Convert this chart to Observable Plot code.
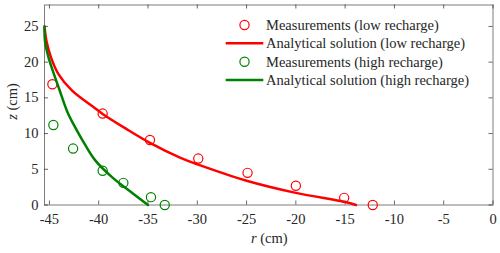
<!DOCTYPE html>
<html>
<head>
<meta charset="utf-8">
<script src="https://cdn.jsdelivr.net/npm/d3@7"></script>
<script src="https://cdn.jsdelivr.net/npm/@observablehq/plot@0.6"></script>
<style>
  html, body { margin: 0; padding: 0; background: #fff; }
  svg text { font-family: "Liberation Serif", serif; }
</style>
</head>
<body>
<div id="chart"></div>
<script>
// ---- data ----
const lowMeasR = [-44.7, -39.6, -34.8, -29.9, -24.9, -20.0, -15.1, -12.2];
const lowMeasZ = [16.9, 12.8, 9.1, 6.5, 4.5, 2.7, 1.0, 0.0];
const highMeasR = [-44.6, -42.6, -39.6, -37.5, -34.7, -33.3];
const highMeasZ = [11.2, 7.9, 4.8, 3.1, 1.1, 0.0];

const lowSolR = [-45.5, -45.3, -44.85, -44.1, -42.7, -40.5, -39.6, -37.2, -34.8, -31.7, -29.9, -25, -20, -15, -13.9];
const lowSolZ = [25, 22.95, 20.7, 18.35, 16.0, 13.67, 12.75, 10.65, 8.7, 6.6, 5.65, 3.4, 1.7, 0.42, 0];
const highSolR = [-45.5, -45.45, -45.1, -44.55, -43.95, -43.2, -42.4, -41.45, -40.35, -38.65, -36.5, -35.0];
const highSolZ = [25, 22.95, 20.7, 18.35, 16.0, 13.1, 10.9, 8.6, 6.25, 3.9, 1.57, 0];

const xTicks = [-45, -40, -35, -30, -25, -20, -15, -10, -5, 0];
const yTicks = [0, 5, 10, 15, 20, 25];

const legendLabels = [
  "Measurements (low recharge)",
  "Analytical solution (low recharge)",
  "Measurements (high recharge)",
  "Analytical solution (high recharge)"
];
const red = "#ff0000";
const green = "#008000";
const axisColor = "#262626";

const zip = (rs, zs) => rs.map((r, i) => ({r, z: zs[i]}));
const lowMeas = zip(lowMeasR, lowMeasZ);
const highMeas = zip(highMeasR, highMeasZ);
const lowSol = zip(lowSolR, lowSolZ);
const highSol = zip(highSolR, highSolZ);

const W = 500, H = 253;
const mL = 44, mR = 7.5, mT = 4.5, mB = 48.5;
const plotW = W - mL - mR, plotH = H - mT - mB;
const tickLen = 4;
const font = "Liberation Serif";

const svg = Plot.plot({
  width: W, height: H,
  marginLeft: mL, marginRight: mR, marginTop: mT, marginBottom: mB,
  x: {domain: [-45.5, 0]},
  y: {domain: [0, 28]},
  style: {fontFamily: font, fontSize: "14.5px", color: axisColor, background: "#fff"},
  marks: [
    // inward ticks on all four sides
    Plot.tickX(xTicks, {x: d => d, insetTop: plotH - tickLen, stroke: axisColor, strokeOpacity: 0.7}),
    Plot.tickX(xTicks, {x: d => d, insetBottom: plotH - tickLen, stroke: axisColor, strokeOpacity: 0.7}),
    Plot.tickY(yTicks, {y: d => d, insetRight: plotW - tickLen, stroke: axisColor, strokeOpacity: 0.7}),
    Plot.tickY(yTicks, {y: d => d, insetLeft: plotW - tickLen, stroke: axisColor, strokeOpacity: 0.7}),
    Plot.axisX(xTicks, {tickSize: 0, tickPadding: 9, label: null, tickFormat: d => String(d), fill: axisColor}),
    Plot.axisY(yTicks, {tickSize: 0, tickPadding: 6, label: null, tickFormat: d => String(d), fill: axisColor}),
    Plot.frame({stroke: axisColor, strokeOpacity: 0.6}),
    Plot.dot(lowMeas, {x: "r", y: "z", r: 4.6, stroke: red, strokeWidth: 1.2, fill: "none"}),
    Plot.line(lowSol, {x: "r", y: "z", stroke: red, strokeWidth: 2.5, curve: "catmull-rom"}),
    Plot.dot(highMeas, {x: "r", y: "z", r: 4.6, stroke: green, strokeWidth: 1.2, fill: "none"}),
    Plot.line(highSol, {x: "r", y: "z", stroke: green, strokeWidth: 2.5, curve: "catmull-rom"})
  ]
});

const s = d3.select(svg);

// axis labels with italic variable
const xl = s.append("text")
  .attr("x", mL + plotW / 2 + 1).attr("y", 243)
  .attr("text-anchor", "middle").attr("font-family", font).attr("font-size", 14.5).attr("fill", axisColor);
xl.append("tspan").attr("font-style", "italic").text("r");
xl.append("tspan").text(" (cm)");

const yl = s.append("text")
  .attr("transform", `translate(17,${mT + plotH / 2 - 3}) rotate(-90)`)
  .attr("text-anchor", "middle").attr("font-family", font).attr("font-size", 14.5).attr("fill", axisColor);
yl.append("tspan").attr("font-style", "italic").text("z");
yl.append("tspan").text(" (cm)");

// legend
const legendColors = [red, red, green, green];
const legendKinds = ["dot", "line", "dot", "line"];
const lg = s.append("g");
const rowY0 = 25, rowStep = 18.35, symX0 = 225.7, symX1 = 263.3, textX = 266;
legendLabels.forEach((lab, i) => {
  const y = rowY0 + i * rowStep;
  if (legendKinds[i] === "dot") {
    lg.append("circle").attr("cx", (symX0 + symX1) / 2).attr("cy", y).attr("r", 4.6)
      .attr("fill", "none").attr("stroke", legendColors[i]).attr("stroke-width", 1.2);
  } else {
    lg.append("line").attr("x1", symX0).attr("x2", symX1).attr("y1", y).attr("y2", y)
      .attr("stroke", legendColors[i]).attr("stroke-width", 2.5);
  }
  lg.append("text").attr("x", textX).attr("y", y + 5).attr("text-anchor", "start")
    .attr("font-family", font).attr("font-size", 14.5).attr("fill", axisColor).text(lab);
});

document.getElementById("chart").appendChild(svg);
</script>
</body>
</html>
